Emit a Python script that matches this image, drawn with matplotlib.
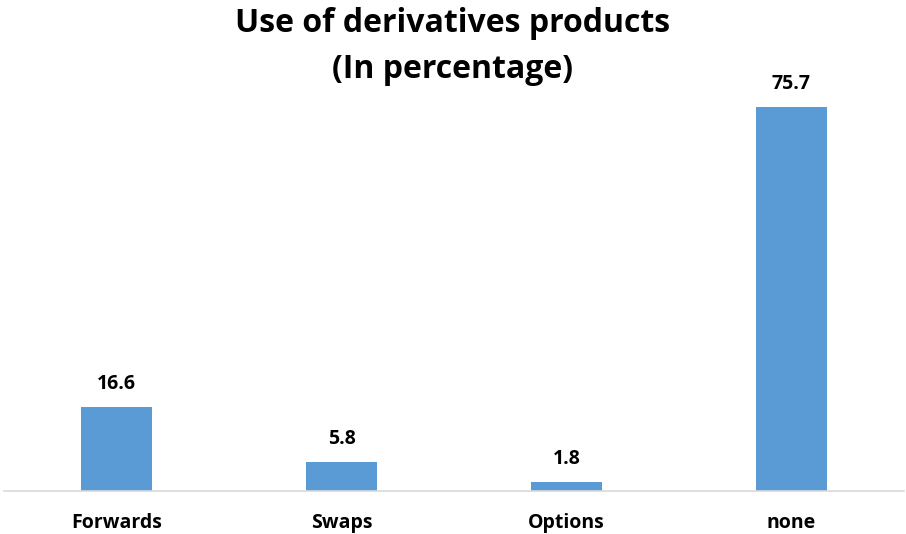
import matplotlib.pyplot as plt

categories = ['Forwards', 'Swaps', 'Options', 'none']
values = [16.6, 5.8, 1.8, 75.7]

plt.rcParams['font.family'] = ['Open Sans', 'DejaVu Sans']

fig = plt.figure(figsize=(9.06, 5.34), dpi=100)
ax = fig.add_axes([4/906, 43/534, 900/906, 406/534])

x = range(len(categories))
bars = ax.bar(x, values, width=0.315, color='#5B9BD5')
for b, v in zip(bars, values):
    ax.annotate(f'{v:.1f}', (b.get_x() + b.get_width()/2, v),
                xytext=(0, 9), textcoords='offset points',
                ha='center', va='bottom', fontsize=14, fontweight='bold')

ax.set_xlim(-0.5, len(categories) - 0.5)
ax.set_ylim(0, 80)
ax.set_xticks(list(x))
ax.set_xticklabels(categories, fontsize=14, fontweight='bold')
ax.tick_params(axis='x', length=0, pad=16)
ax.set_yticks([])
for s in ['top', 'right', 'left']:
    ax.spines[s].set_visible(False)
ax.spines['bottom'].set_color('#D9D9D9')
ax.spines['bottom'].set_linewidth(1.2)

fig.text(0.5, 1 - 23/534, 'Use of derivatives products', ha='center', va='center',
         fontsize=23, fontweight='bold')
fig.text(0.5, 1 - 70/534, '(In percentage)', ha='center', va='center',
         fontsize=23, fontweight='bold')

fig.savefig('out.png', dpi=100)
